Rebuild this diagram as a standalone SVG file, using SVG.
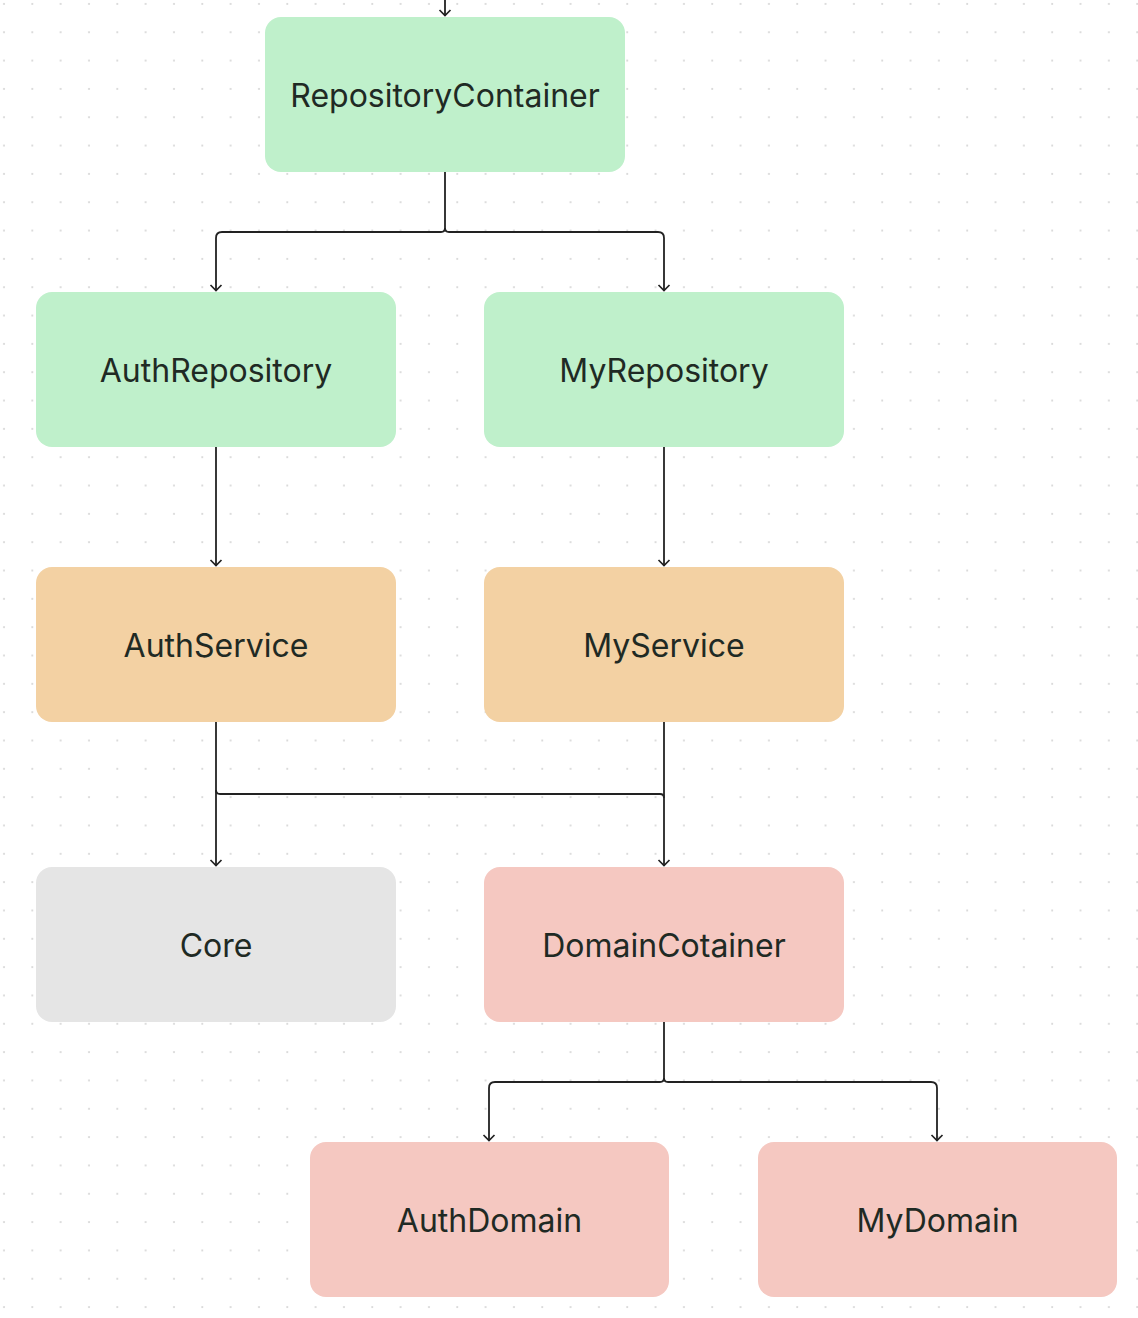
<svg xmlns="http://www.w3.org/2000/svg" width="1138" height="1318" viewBox="0 0 1138 1318">
<defs>
<pattern id="dots" x="0" y="0" width="28.33" height="28.33" patternUnits="userSpaceOnUse">
<circle cx="4" cy="4" r="1" fill="#d2d2d2"/>
</pattern>
<marker id="arr" viewBox="0 0 12 14" refX="11" refY="7" markerWidth="12" markerHeight="14" markerUnits="userSpaceOnUse" orient="auto">
<path d="M5,1.5 L10.5,7 L5,12.5" fill="none" stroke="#222" stroke-width="1.7"/>
</marker>
</defs>
<style>
.green{fill:#bff0cb}
.orange{fill:#f3d1a3}
.grey{fill:#e5e5e5}
.pink{fill:#f5c8c1}
.lbl{font-family:Inter,"Noto Sans",sans-serif;font-size:32px;fill:#1f2a24;text-anchor:middle;dominant-baseline:central}
.edge{fill:none;stroke:#222;stroke-width:1.8;stroke-linejoin:round}
</style>
<rect width="1138" height="1318" fill="#ffffff"/>
<rect width="1138" height="1318" fill="url(#dots)"/>
<g id="connectors">
<path class="edge" d="M445,0 L445,16" marker-end="url(#arr)"/>
<path class="edge" d="M445,172 L445,228 Q445,232 441,232 L222,232 Q216,232 216,238 L216,291" marker-end="url(#arr)"/>
<path class="edge" d="M445,228 Q445,232 449,232 L658,232 Q664,232 664,238 L664,291" marker-end="url(#arr)"/>
<path class="edge" d="M216,447 L216,566" marker-end="url(#arr)"/>
<path class="edge" d="M664,447 L664,566" marker-end="url(#arr)"/>
<path class="edge" d="M216,722 L216,866" marker-end="url(#arr)"/>
<path class="edge" d="M664,722 L664,866" marker-end="url(#arr)"/>
<path class="edge" d="M216,790 Q216,794 220,794 L660,794 Q664,794 664,798"/>
<path class="edge" d="M664,1022 L664,1078 Q664,1082 660,1082 L495,1082 Q489,1082 489,1088 L489,1141" marker-end="url(#arr)"/>
<path class="edge" d="M664,1078 Q664,1082 668,1082 L931,1082 Q937,1082 937,1088 L937,1141" marker-end="url(#arr)"/>
</g>
<g id="RepositoryContainer">
<rect class="green" x="265" y="17" width="360" height="155" rx="16"/>
<text class="lbl" x="445" y="95">RepositoryContainer</text>
</g>
<g id="AuthRepository">
<rect class="green" x="36" y="292" width="360" height="155" rx="16"/>
<text class="lbl" x="216" y="370">AuthRepository</text>
</g>
<g id="MyRepository">
<rect class="green" x="484" y="292" width="360" height="155" rx="16"/>
<text class="lbl" x="664" y="370">MyRepository</text>
</g>
<g id="AuthService">
<rect class="orange" x="36" y="567" width="360" height="155" rx="16"/>
<text class="lbl" x="216" y="645">AuthService</text>
</g>
<g id="MyService">
<rect class="orange" x="484" y="567" width="360" height="155" rx="16"/>
<text class="lbl" x="664" y="645">MyService</text>
</g>
<g id="Core">
<rect class="grey" x="36" y="867" width="360" height="155" rx="16"/>
<text class="lbl" x="216" y="945">Core</text>
</g>
<g id="DomainCotainer">
<rect class="pink" x="484" y="867" width="360" height="155" rx="16"/>
<text class="lbl" x="664" y="945">DomainCotainer</text>
</g>
<g id="AuthDomain">
<rect class="pink" x="310" y="1142" width="359" height="155" rx="16"/>
<text class="lbl" x="489.5" y="1220">AuthDomain</text>
</g>
<g id="MyDomain">
<rect class="pink" x="758" y="1142" width="359" height="155" rx="16"/>
<text class="lbl" x="937.5" y="1220">MyDomain</text>
</g>
</svg>
